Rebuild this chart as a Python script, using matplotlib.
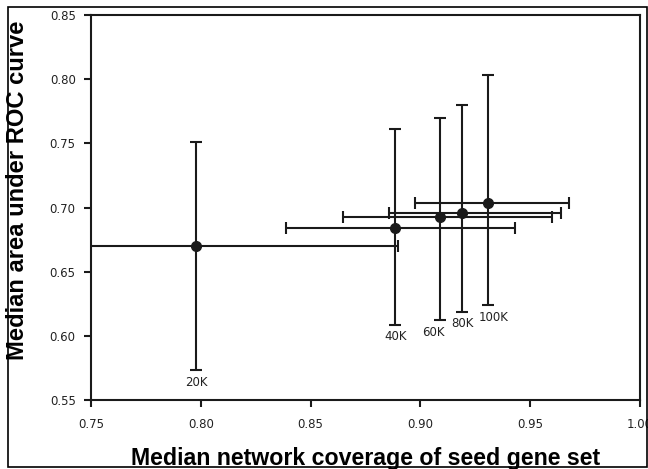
import matplotlib
matplotlib.use("Agg")
import matplotlib.pyplot as plt
from matplotlib.patches import Rectangle

labels = ["20K", "40K", "60K", "80K", "100K"]
coverage = [0.798, 0.8885, 0.909, 0.919, 0.931]
coverage_lo = [0.705, 0.8387, 0.8647, 0.8855, 0.8976]
coverage_hi = [0.890, 0.943, 0.960, 0.964, 0.9675]
auc = [0.670, 0.6837, 0.6923, 0.6957, 0.7038]
auc_lo = [0.573, 0.6085, 0.612, 0.6187, 0.624]
auc_hi = [0.751, 0.761, 0.770, 0.780, 0.803]
label_dx = [0, 0, -7, 0, 5]

xticks = [0.75, 0.80, 0.85, 0.90, 0.95, 1.00]
yticks = [0.55, 0.60, 0.65, 0.70, 0.75, 0.80, 0.85]

W, H = 648, 469
fig = plt.figure(figsize=(W / 100, H / 100), dpi=100)
ax = fig.add_axes([91 / W, 1 - 400 / H, (640 - 91) / W, (400 - 15) / H])

col = "#1a1a1a"
xerr = [[c - lo for c, lo in zip(coverage, coverage_lo)],
        [hi - c for c, hi in zip(coverage, coverage_hi)]]
yerr = [[a - lo for a, lo in zip(auc, auc_lo)],
        [hi - a for a, hi in zip(auc, auc_hi)]]
ax.errorbar(coverage, auc, xerr=xerr, yerr=yerr, fmt="o", color=col,
            ms=7, elinewidth=1.5, capsize=4.5, capthick=1.5)

tick_font = ["Liberation Sans Narrow", "DejaVu Sans"]
for lab, x, ylo, dx in zip(labels, coverage, auc_lo, label_dx):
    ax.annotate(lab, (x, ylo), xytext=(dx, -12), textcoords="offset pixels",
                ha="center", va="center", fontsize=8.5, color="#222222",
                family=tick_font)

ax.set_xlim(0.75, 1.00)
ax.set_ylim(0.55, 0.85)
ax.set_xticks(xticks)
ax.set_yticks(yticks)
ax.set_xticklabels([f"{v:.2f}" for v in xticks], family=tick_font, fontsize=8.5, color="#222222")
ax.set_yticklabels([f"{v:.2f}" for v in yticks], family=tick_font, fontsize=8.5, color="#222222")
ax.tick_params(direction="out", length=5, width=1.5, color=col, pad=6)
ax.tick_params(axis="x", pad=8)
for s in ax.spines.values():
    s.set_linewidth(1.5)
    s.set_color(col)

fig.text(366 / W, 1 - 465 / H, "Median network coverage of seed gene set",
         ha="center", va="baseline", fontsize=16.7, fontweight="bold",
         family=["Liberation Sans", "DejaVu Sans"])
fig.text(17.5 / W, 1 - 190.5 / H, "Median area under ROC curve", rotation=90,
         ha="center", va="center", fontsize=17.1, fontweight="bold",
         family=["Liberation Sans", "DejaVu Sans"])

fig.patches.append(Rectangle((8 / W, 1 - 467 / H), (647 - 8) / W, (467 - 7) / H,
                             transform=fig.transFigure, fill=False,
                             edgecolor="black", linewidth=1.2))

fig.savefig("out.png", dpi=100)
